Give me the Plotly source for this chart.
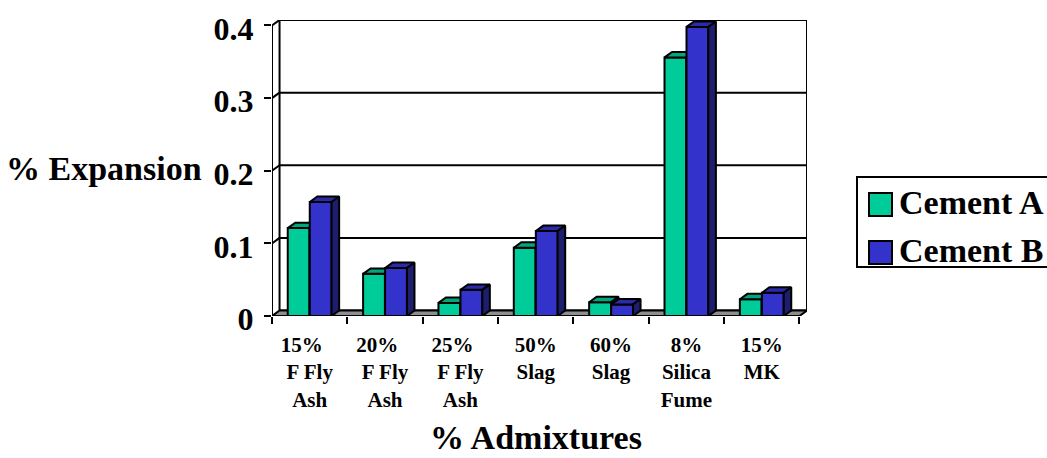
import plotly.graph_objects as go

# --- data -------------------------------------------------------------
categories = [
    "15%\u00a0\u00a0\u00a0<br>F Fly<br>Ash",
    "20%\u00a0\u00a0\u00a0<br>F Fly<br>Ash",
    "25%\u00a0\u00a0\u00a0<br>F Fly<br>Ash",
    "50%<br>Slag",
    "60%<br>Slag",
    "8%<br>Silica<br>Fume",
    "15%<br>MK",
]
cement_a = [0.121, 0.058, 0.018, 0.094, 0.019, 0.356, 0.023]
cement_b = [0.157, 0.066, 0.036, 0.117, 0.016, 0.398, 0.032]
series_names = ["Cement A", "Cement B"]
y_ticks = [0, 0.1, 0.2, 0.3, 0.4]

# --- styling ----------------------------------------------------------
FONT = "Liberation Serif, Times New Roman, serif"
FRONT = ["#00CC99", "#3333CC"]
TOP = ["#00A67C", "#2A2AAA"]
SIDE = ["#007A5C", "#1E1E6E"]
BAR_W = 0.29
OFFSETS = [-0.146, 0.146]
DX, DY = 0.1, 0.0075          # depth of the pseudo-3D box (axis units)
YMAX = 0.4
N = len(categories)

W, H = 1047, 458
ML, MR, MT, MB = 272, 240, 20, 142
PW, PH = W - ML - MR, H - MT - MB


def px(x):
    return (x - ML) / PW


def py(y):
    return (H - MB - y) / PH


fig = go.Figure()

axes = [("x", "y"), ("x2", "y2")]
for s, vals in enumerate([cement_a, cement_b]):
    xa, ya = axes[s]
    xs = [i + OFFSETS[s] for i in range(N)]
    fig.add_trace(go.Bar(
        x=xs, y=vals, width=BAR_W, name=series_names[s],
        marker=dict(color=FRONT[s], line=dict(color="black", width=2)),
        xaxis=xa, yaxis=ya, showlegend=False, hoverinfo="y",
    ))
    # top faces
    tx, ty = [], []
    for x, v in zip(xs, vals):
        x0, x1 = x - BAR_W / 2, x + BAR_W / 2
        tx += [x0, x1, x1 + DX, x0 + DX, x0, None]
        ty += [v, v, v + DY, v + DY, v, None]
    fig.add_trace(go.Scatter(
        x=tx, y=ty, mode="lines", fill="toself", fillcolor=TOP[s],
        line=dict(color="black", width=2), xaxis=xa, yaxis=ya,
        showlegend=False, hoverinfo="skip",
    ))
    # side faces
    sx, sy = [], []
    for x, v in zip(xs, vals):
        x1 = x + BAR_W / 2
        sx += [x1, x1, x1 + DX, x1 + DX, x1, None]
        sy += [0, v, v + DY, DY, 0, None]
    fig.add_trace(go.Scatter(
        x=sx, y=sy, mode="lines", fill="toself", fillcolor=SIDE[s],
        line=dict(color="black", width=2), xaxis=xa, yaxis=ya,
        showlegend=False, hoverinfo="skip",
    ))

# --- box: back wall, left wall, floor ---------------------------------
x_lo, x_hi = -0.5, N - 0.5
shapes = []
line = dict(color="black", width=2)
# back wall
shapes.append(dict(type="rect", xref="x", yref="y", layer="below",
                   x0=x_lo + DX, x1=x_hi + DX, y0=DY, y1=YMAX + DY,
                   fillcolor="white", line=line))
for t in y_ticks[1:-1]:
    shapes.append(dict(type="line", xref="x", yref="y", layer="below",
                       x0=x_lo + DX, x1=x_hi + DX, y0=t + DY, y1=t + DY,
                       line=line))
for t in y_ticks[1:]:
    shapes.append(dict(type="line", xref="x", yref="y", layer="below",
                       x0=x_lo, x1=x_lo + DX, y0=t, y1=t + DY, line=line))
# left wall front edge
shapes.append(dict(type="line", xref="x", yref="y", layer="below",
                   x0=x_lo, x1=x_lo, y0=0, y1=YMAX, line=line))
# floor
shapes.append(dict(
    type="path", xref="x", yref="y", layer="below",
    path=f"M{x_lo},0 L{x_hi},0 L{x_hi + DX},{DY} L{x_lo + DX},{DY} Z",
    fillcolor="#8E8E8E", line=line))

# --- legend (drawn) ---------------------------------------------------
shapes.append(dict(type="rect", xref="paper", yref="paper",
                   x0=px(857), x1=px(1052), y0=py(267), y1=py(177),
                   line=dict(color="black", width=2), fillcolor="white"))
annotations = []
for s in range(2):
    cy = 204.5 + 48 * s
    shapes.append(dict(type="rect", xref="paper", yref="paper",
                       x0=px(869), x1=px(892), y0=py(cy + 11.5), y1=py(cy - 11.5),
                       line=dict(color="black", width=2), fillcolor=FRONT[s]))
    annotations.append(dict(xref="paper", yref="paper", x=px(897), y=py(cy - 2),
                            xanchor="left", yanchor="middle", showarrow=False,
                            text=f"<b>{series_names[s]}</b>",
                            font=dict(family=FONT, size=34, color="black")))

annotations.append(dict(xref="paper", yref="paper", x=px(204), y=py(168),
                        xanchor="right", yanchor="middle", showarrow=False,
                        text="<b>% Expansion</b>",
                        font=dict(family=FONT, size=34, color="black")))
annotations.append(dict(xref="paper", yref="paper", x=px(536), y=py(437),
                        xanchor="center", yanchor="middle", showarrow=False,
                        text="<b>% Admixtures</b>",
                        font=dict(family=FONT, size=34, color="black")))

xrange = [x_lo, x_hi + DX]
yrange = [0, YMAX + DY]

fig.update_layout(
    width=W, height=H,
    margin=dict(l=ML, r=MR, t=MT, b=MB, pad=0),
    paper_bgcolor="white", plot_bgcolor="rgba(0,0,0,0)",
    barmode="overlay",
    shapes=shapes, annotations=annotations,
    font=dict(family=FONT, color="black"),
    xaxis=dict(
        range=xrange, showgrid=False, zeroline=False, showline=False,
        tickmode="array", tickvals=list(range(N)),
        ticktext=[f"<b>{c}</b>" for c in categories],
        ticks="", ticklen=0, ticklabelstandoff=14,
        tickfont=dict(family=FONT, size=21, color="black"),
        minor=dict(tickmode="array", tickvals=[i - 0.5 for i in range(N + 1)],
                   ticks="outside", ticklen=7, tickwidth=2, tickcolor="black"),
        fixedrange=True,
    ),
    yaxis=dict(
        range=yrange, showgrid=False, zeroline=False, showline=False,
        tickmode="array", tickvals=y_ticks,
        ticktext=[f"<b>{t:g}</b>" for t in y_ticks],
        ticks="outside", ticklen=7, tickwidth=2, tickcolor="black",
        ticklabelstandoff=4, ticklabelshift=3,
        tickfont=dict(family=FONT, size=32, color="black"),
        fixedrange=True,
    ),
    xaxis2=dict(range=xrange, overlaying="x", visible=False, fixedrange=True),
    yaxis2=dict(range=yrange, overlaying="y", visible=False, fixedrange=True),
)

fig.write_html("out.html")
